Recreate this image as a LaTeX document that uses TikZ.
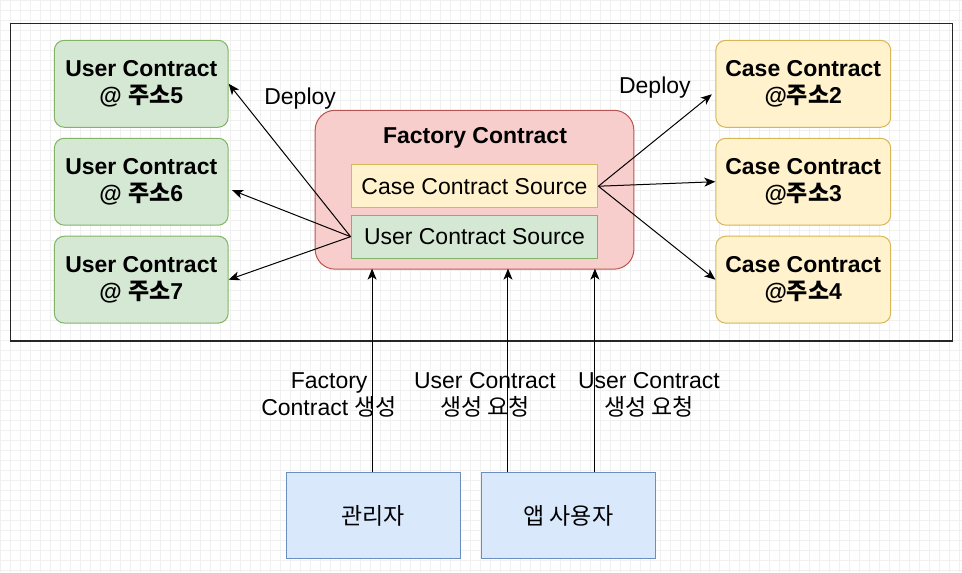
\documentclass[tikz,border=0pt]{standalone}
\usepackage{fontspec}
\setmainfont{Liberation Sans}
\newfontfamily\kr{Noto Sans CJK KR}
\usetikzlibrary{arrows.meta}
\definecolor{usergreen}{HTML}{D5E8D4}
\definecolor{userline}{HTML}{82B366}
\definecolor{caseyellow}{HTML}{FFF2CC}
\definecolor{caseline}{HTML}{D6B656}
\definecolor{factred}{HTML}{F8CECC}
\definecolor{factline}{HTML}{B85450}
\definecolor{actorblue}{HTML}{DAE8FC}
\definecolor{actorline}{HTML}{6C8EBF}
\definecolor{gridgray}{HTML}{F0F0F0}

\begin{document}
\begin{tikzpicture}[
      x=1pt, y=-1pt,
      every node/.style={font=\fontsize{23}{26.5}\selectfont, inner sep=0pt, align=center},
      userbox/.style={draw=userline, fill=usergreen, rounded corners=10pt, line width=1pt,
        minimum width=174pt, minimum height=87pt, font=\fontsize{23}{26.5}\selectfont\bfseries},
      casebox/.style={draw=caseline, fill=caseyellow, rounded corners=10pt, line width=1pt,
        minimum width=175pt, minimum height=87pt, font=\fontsize{23}{26.5}\selectfont\bfseries},
      srcbox/.style={line width=1pt, minimum width=247pt, minimum height=43pt},
      actor/.style={draw=actorline, fill=actorblue, line width=1pt,
        minimum width=174pt, minimum height=87pt},
      flow/.style={-{Stealth[length=11pt, width=9pt, inset=3pt]}, line width=1pt}
    ]
    % background grid
    \foreach \gx in {0,10,...,960} \draw[gridgray, line width=0.7pt] (\gx,0) -- (\gx,572);
    \foreach \gy in {0,10,...,570} \draw[gridgray, line width=0.7pt] (0,\gy) -- (962,\gy);
    \useasboundingbox (0,0) rectangle (962,572);
    \node[draw=black!85, line width=1.3pt, minimum width=943pt, minimum height=318pt] (chain) at (481.5,182) {};

    % deployed contracts
    \node[userbox] (u5) at (141,83.5) {User Contract\\@ {\kr 주소}5};
    \node[userbox] (u6) at (141,181.5) {User Contract\\@ {\kr 주소}6};
    \node[userbox] (u7) at (141,279.5) {User Contract\\@ {\kr 주소}7};
    \node[casebox] (c2) at (803.5,83.5) {Case Contract\\@{\kr 주소}2};
    \node[casebox] (c3) at (803.5,181.5) {Case Contract\\@{\kr 주소}3};
    \node[casebox] (c4) at (803.5,279.5) {Case Contract\\@{\kr 주소}4};

    % factory
    \node[draw=factline, fill=factred, rounded corners=20pt, line width=1pt,
      minimum width=319pt, minimum height=159pt] (fac) at (474.5,189.5) {};
    \node[font=\fontsize{23}{26.5}\selectfont\bfseries] (factitle) at (475,138) {Factory Contract};
    \node[srcbox, draw=caseline, fill=caseyellow] (csrc) at (474.5,186) {Case Contract Source};
    \node[srcbox, draw=userline, fill=usergreen] (usrc) at (474.5,236.5) {User Contract Source};

    \coordinate (u6in) at (232,190);
    \coordinate (c2in) at (712,94);
    \draw[flow] (usrc.west) -- (u5.east);
    \draw[flow] (usrc.west) -- (u6in);
    \draw[flow] (usrc.west) -- (u7.east);
    \draw[flow] (csrc.east) -- (c2in);
    \draw[flow] (csrc.east) -- (c3.west);
    \draw[flow] (csrc.east) -- (c4.west);
    \node (dep1) at (300,98) {Deploy};
    \node (dep2) at (655,87) {Deploy};

    % actors
    \node[actor] (admin) at (373,515.5) {{\kr 관리자}};
    \node[actor, minimum width=175pt] (appuser) at (568.5,515.5) {{\kr 앱 사용자}};
    \draw[flow] ([xshift=-1]admin.north) -- ++(0,-203);
    \draw[flow] ([xshift=-60.5]appuser.north) -- ++(0,-203);
    \draw[flow] ([xshift=26.5]appuser.north) -- ++(0,-203);
    \node (req1) at (329,395) {Factory\\Contract {\kr 생성}};
    \node (req2) at (485,395) {User Contract\\{\kr 생성 요청}};
    \node (req3) at (649,395) {User Contract\\{\kr 생성 요청}};
\end{tikzpicture}
\end{document}
